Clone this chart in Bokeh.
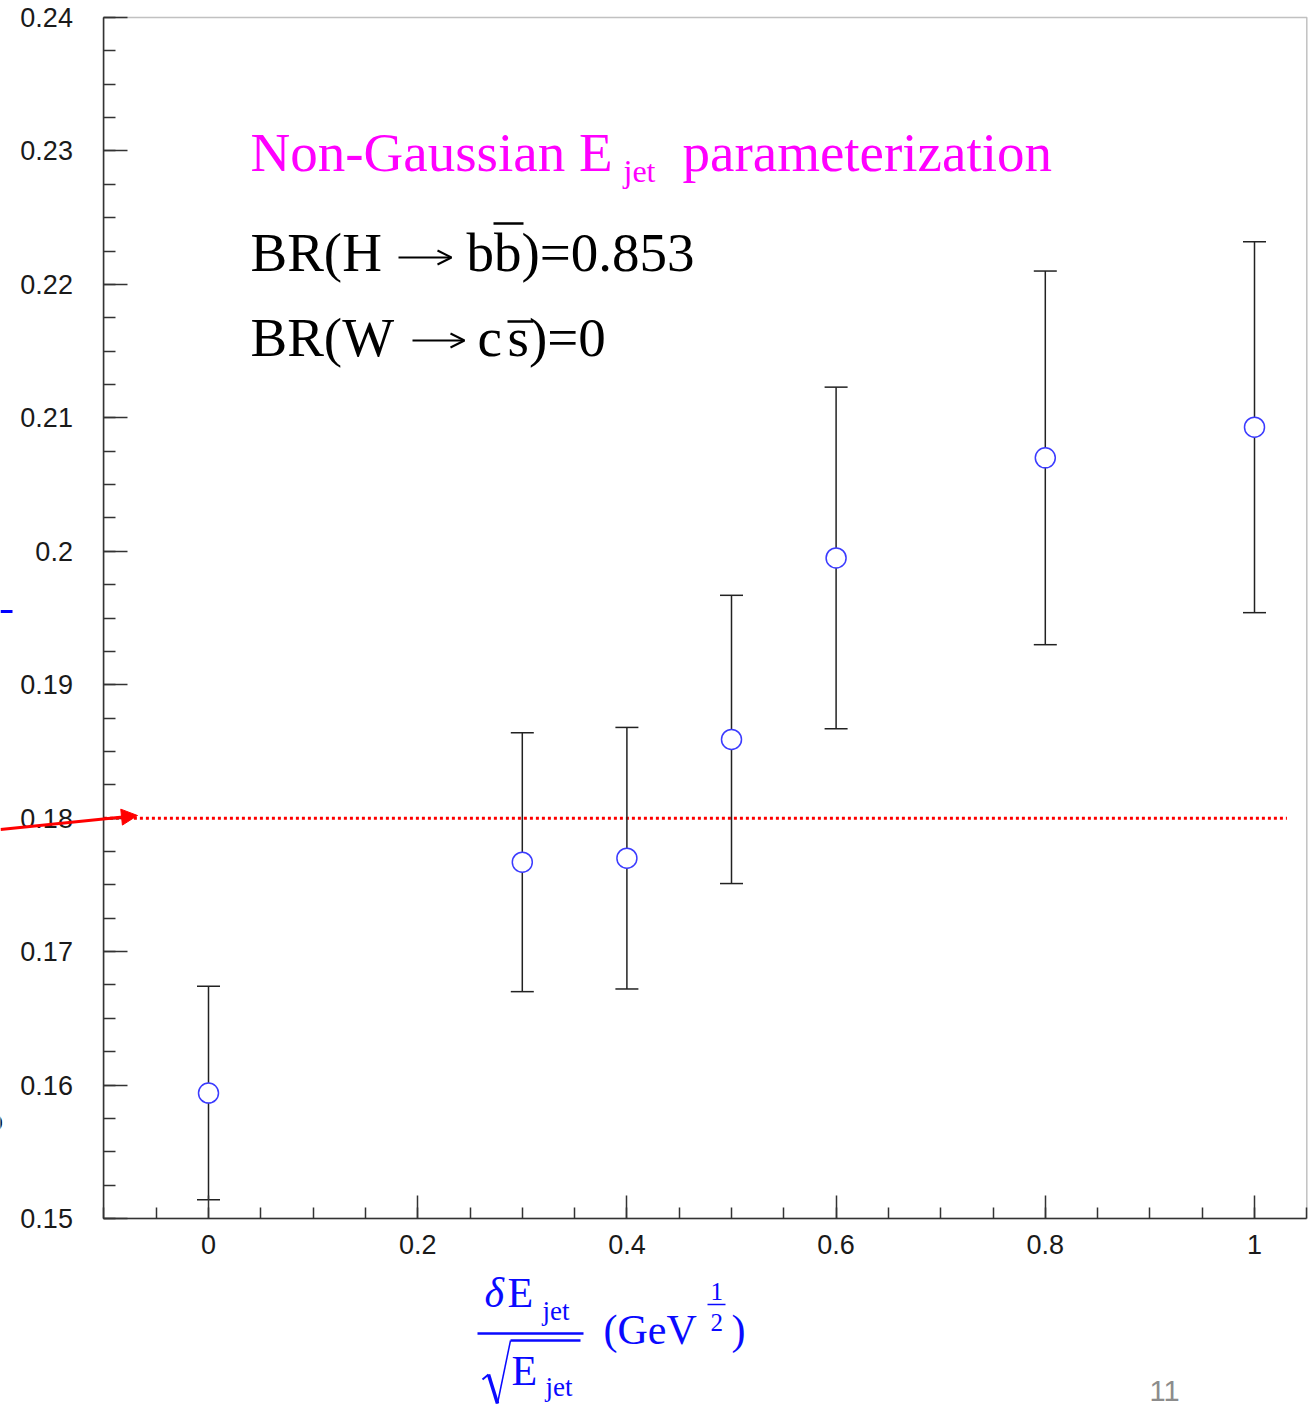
from bokeh.plotting import figure
from bokeh.models import (ColumnDataSource, Label, Arrow, NormalHead, OpenHead,
                          SingleIntervalTicker, Range1d, LinearAxis, BoxAnnotation)
from bokeh.embed import file_html
from bokeh.resources import INLINE

# ---------------- data ----------------
SIGMA_SCALE = [0.0, 0.3, 0.4, 0.5, 0.6, 0.8, 1.0]          # dE/sqrt(E) (GeV^1/2)
BR_FIT = [0.1594, 0.1767, 0.1770, 0.1859, 0.1995, 0.2070, 0.2093]
BR_ERR = [0.0080, 0.0097, 0.0098, 0.0108, 0.0128, 0.0140, 0.0139]
REF_VALUE = 0.18
REF_X = [-0.1, 1.031]
X_BOUNDS = (-0.1, 1.05)
Y_BOUNDS = (0.15, 0.24)
X_TICKS = [0, 0.2, 0.4, 0.6, 0.8, 1]
Y_TICKS = [0.15, 0.16, 0.17, 0.18, 0.19, 0.20, 0.21, 0.22, 0.23, 0.24]

# ---------------- layout (canvas pixels) ----------------
W, H = 1312, 1406
X0_PX, X1_PX = 208, 1254      # pixel of x=0 and x=1
Y_TOP_PX, Y_BOT_PX = 17, 1218  # pixel of y=0.24 and y=0.15
xs = (X1_PX - X0_PX) / 1.0
ys = (Y_BOT_PX - Y_TOP_PX) / (Y_BOUNDS[1] - Y_BOUNDS[0])
x_range = Range1d(-X0_PX / xs, (W - X0_PX) / xs)
y_range = Range1d(Y_BOUNDS[1] - (H - Y_TOP_PX) / ys, Y_BOUNDS[1] + Y_TOP_PX / ys)

upper = [v + e for v, e in zip(BR_FIT, BR_ERR)]
lower = [v - e for v, e in zip(BR_FIT, BR_ERR)]
src = ColumnDataSource(dict(x=SIGMA_SCALE, y=BR_FIT, up=upper, lo=lower))

p = figure(width=W, height=H, output_backend="svg", toolbar_location=None,
           x_range=x_range, y_range=y_range,
           x_axis_type=None, y_axis_type=None,
           min_border=0, min_border_left=0, min_border_right=0,
           min_border_top=0, min_border_bottom=0)
p.background_fill_color = "white"
p.border_fill_color = "white"
p.outline_line_color = None
p.grid.visible = False

AX = "#333333"
xaxis = LinearAxis(fixed_location=Y_BOUNDS[0], bounds=X_BOUNDS,
                   ticker=SingleIntervalTicker(interval=0.2, num_minor_ticks=4))
yaxis = LinearAxis(fixed_location=X_BOUNDS[0], bounds=Y_BOUNDS,
                   ticker=SingleIntervalTicker(interval=0.01, num_minor_ticks=4))
xaxis.major_label_overrides = {t: f"{t:g}" for t in X_TICKS}
yaxis.major_label_overrides = {t: f"{t:g}" for t in Y_TICKS}
for ax in (xaxis, yaxis):
    ax.axis_line_color = AX
    ax.axis_line_width = 1.5
    ax.major_tick_line_color = AX
    ax.minor_tick_line_color = AX
    ax.major_tick_line_width = 1.5
    ax.minor_tick_line_width = 1.5
    ax.major_tick_out = 0
    ax.minor_tick_out = 0
    ax.major_label_text_font = "Liberation Sans"
    ax.major_label_text_font_size = "27px"
    ax.major_label_text_color = "#1a1a1a"
xaxis.major_tick_in = 23
xaxis.minor_tick_in = 11
yaxis.major_tick_in = 24
yaxis.minor_tick_in = 12
xaxis.major_label_standoff = 16
yaxis.major_label_standoff = 31
p.add_layout(xaxis, "below")
p.add_layout(yaxis, "left")

# plot frame box (top / right edges)
p.add_layout(BoxAnnotation(left=X_BOUNDS[0], right=X_BOUNDS[1],
                           bottom=Y_BOUNDS[0], top=Y_BOUNDS[1],
                           fill_alpha=0, fill_color=None,
                           line_color=AX, line_width=1.5, level="underlay"))

# reference dotted line
p.segment(x0=[REF_X[0]], x1=[REF_X[1]], y0=[REF_VALUE], y1=[REF_VALUE],
          line_color="red", line_width=3, line_dash="3 3")

# error bars
p.segment(x0="x", x1="x", y0="lo", y1="up", source=src,
          line_color="#222222", line_width=1.5)
p.scatter(x="x", y="up", source=src, marker="dash", size=23,
          line_color="#222222", line_width=1.5)
p.scatter(x="x", y="lo", source=src, marker="dash", size=23,
          line_color="#222222", line_width=1.5)
p.scatter(x="x", y="y", source=src, marker="circle", size=20,
          fill_color="white", line_color="#3b3bff", line_width=1.5)


# ---------------- annotations (canvas pixel helpers) ----------------
def label(px, py, text, size, color="black", font="Liberation Serif", style="normal"):
    # py is the wanted baseline in canvas pixels (from top)
    p.add_layout(Label(x=px, y=H - py + 0.39 * size, x_units="screen", y_units="screen",
                       text=text, text_font=font, text_font_size=f"{size}px",
                       text_color=color, text_baseline="alphabetic",
                       text_font_style=style))


def line(px0, py0, px1, py1, color="black", width=2.0, head=None):
    p.add_layout(Arrow(x_start=px0, y_start=H - py0, x_end=px1, y_end=H - py1,
                       start_units="screen", end_units="screen",
                       start=None, end=head, line_color=color, line_width=width))


MAG = "#ff00ff"
BLUE = "#0a0aff"

# title
label(250, 173, "Non-Gaussian E", 55, MAG)
label(623, 183, "jet", 32, MAG)
label(682, 173, "parameterization", 55, MAG)

# BR lines
label(250, 273, "BR(H", 55)
line(398, 257, 451, 257, "black", 2, OpenHead(size=14, line_color="black", line_width=2))
label(466, 273, "bb)=0.853", 55)
line(493, 223, 523, 223, "black", 2.5)

label(250, 358, "BR(W", 55)
line(412, 340, 464, 340, "black", 2, OpenHead(size=14, line_color="black", line_width=2))
label(477, 358, "c", 55)
label(507, 358, "s)=0", 55)
line(507, 321, 533, 321, "black", 2.5)

# x-axis title (fraction)
label(484, 1309, "\u03b4", 42, BLUE, style="italic")
label(507, 1309, "E", 42, BLUE)
label(542, 1321, "jet", 27, BLUE)
line(477, 1333, 583, 1333, BLUE, 2.5)
line(482, 1379, 488, 1374, BLUE, 2)
line(488, 1374, 497, 1403, BLUE, 3.5)
line(497, 1403, 510, 1340, BLUE, 1.5)
line(510, 1340, 580, 1340, BLUE, 2.5)
label(511, 1387, "E", 42, BLUE)
label(545, 1397, "jet", 27, BLUE)
label(603, 1346, "(GeV", 42, BLUE)
label(710, 1301, "1", 25, BLUE)
line(707, 1304, 725, 1304, BLUE, 1.5)
label(710, 1332, "2", 25, BLUE)
label(731, 1346, ")", 42, BLUE)

# slide leftovers
line(0, 611, 12, 611, "#0000ff", 3)
label(-18, 1133, "o", 34, "black", font="Liberation Sans", style="bold")
line(0, 829, 137, 815, "red", 3,
     NormalHead(size=16, fill_color="red", line_color="red", line_width=1))
label(1149, 1402, "11", 29, "#8c8c8c", font="Liberation Sans")

open("out.html", "w").write(file_html(p, INLINE))
